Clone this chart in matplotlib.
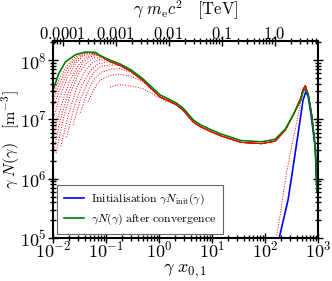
import matplotlib
matplotlib.use('Agg')
import matplotlib.pyplot as plt
import numpy as np

plt.rcParams['font.family'] = 'serif'
plt.rcParams['font.serif'] = ['cmr10', 'DejaVu Serif']
plt.rcParams['mathtext.fontset'] = 'cm'
plt.rcParams['axes.formatter.use_mathtext'] = True

# converged spectrum (green)
green_x = [0.01, 0.0128, 0.0171, 0.0264, 0.0407, 0.063, 0.077, 0.119, 0.18, 0.3, 0.5,
           1.04, 1.6, 2.16, 2.87, 4.43, 5.94, 9.2, 14.5, 35.2, 85.5, 154, 242, 349,
           472, 520, 563, 656, 760, 885, 957]
green_y = [3.1e7, 5.9e7, 9.3e7, 1.23e8, 1.37e8, 1.35e8, 1.2e8, 1.0e8, 8.7e7, 6.8e7, 4.8e7,
           2.6e7, 2.15e7, 1.87e7, 1.54e7, 9.8e6, 8.2e6, 6.8e6, 5.7e6, 4.4e6, 4.2e6, 4.6e6,
           6.9e6, 1.25e7, 2.12e7, 2.9e7, 3.3e7, 2.6e7, 1.14e7, 3.4e6, 6.0e5]

# initialisation (blue)
blue_x = [185, 272, 368, 461, 520, 590, 650, 728, 885, 957]
blue_y = [1e5, 4.4e5, 2.6e6, 1e7, 2.1e7, 2.95e7, 2.45e7, 1.3e7, 3.4e6, 6e5]

# common tail of the iterations (red, just under the green)
tail_x = [0.119, 0.18, 0.3, 0.5, 1.04, 1.6, 2.16, 2.87, 4.43, 5.94, 9.2, 14.5, 35.2,
          85.5, 154, 242, 349, 472, 520, 575, 656, 760, 885, 957]
tail_y = [9.4e7, 8.2e7, 6.4e7, 4.5e7, 2.4e7, 2.0e7, 1.75e7, 1.42e7, 9.0e6, 7.6e6, 6.3e6,
          5.3e6, 4.1e6, 3.9e6, 4.3e6, 6.6e6, 1.25e7, 2.3e7, 3.2e7, 3.7e7, 2.6e7, 1.2e7,
          3.4e6, 6e5]

# low energy part of each iteration
heads = [
    ([0.119, 0.16, 0.2, 0.33, 0.5, 0.84, 1.4], [3.5e7, 3.8e7, 3.85e7, 3.6e7, 3.3e7, 2.55e7, 2.0e7]),
    ([0.046, 0.06, 0.077, 0.119, 0.18, 0.3, 0.5], [2.0e7, 3.3e7, 4.6e7, 5.5e7, 5.8e7, 5.3e7, 4.3e7]),
    ([0.033, 0.045, 0.06, 0.08, 0.119, 0.18, 0.3], [1.3e7, 3.0e7, 4.8e7, 6.2e7, 7.0e7, 7.2e7, 6.2e7]),
    ([0.024, 0.033, 0.045, 0.06, 0.08, 0.119], [8e6, 2.2e7, 4.3e7, 6.3e7, 7.8e7, 8.3e7]),
    ([0.018, 0.025, 0.035, 0.05, 0.07, 0.1], [5e6, 1.6e7, 3.8e7, 6.5e7, 8.6e7, 9.3e7]),
    ([0.014, 0.02, 0.028, 0.04, 0.055, 0.075, 0.1], [3.5e6, 1.3e7, 3.4e7, 6.6e7, 9.0e7, 1.02e8, 1.0e8]),
    ([0.0114, 0.016, 0.022, 0.032, 0.045, 0.06, 0.08], [2.7e6, 1.1e7, 3.0e7, 6.4e7, 9.5e7, 1.1e8, 1.12e8]),
    ([0.01, 0.013, 0.018, 0.026, 0.037, 0.05, 0.065, 0.085], [2.5e6, 8e6, 2.3e7, 5.5e7, 9.2e7, 1.14e8, 1.2e8, 1.15e8]),
    ([0.01, 0.014, 0.02, 0.03, 0.042, 0.055, 0.075], [5e6, 1.6e7, 4.2e7, 8.2e7, 1.12e8, 1.24e8, 1.2e8]),
    ([0.01, 0.013, 0.018, 0.026, 0.037, 0.05, 0.07], [1.0e7, 2.2e7, 4.6e7, 8.5e7, 1.17e8, 1.28e8, 1.22e8]),
    ([0.01, 0.013, 0.018, 0.026, 0.037, 0.05, 0.07], [1.5e7, 3.0e7, 5.8e7, 9.5e7, 1.24e8, 1.31e8, 1.24e8]),
    ([0.01, 0.013, 0.018, 0.026, 0.037, 0.05, 0.07], [2.0e7, 3.9e7, 6.9e7, 1.05e8, 1.29e8, 1.33e8, 1.25e8]),
    ([0.01, 0.013, 0.018, 0.026, 0.037, 0.05, 0.07], [2.5e7, 4.7e7, 7.9e7, 1.13e8, 1.33e8, 1.35e8, 1.26e8]),
]

# first iteration near the injection peak
first_x = [150, 166, 200, 248, 316, 368, 420, 472]
first_y = [5e4, 1.12e5, 3.0e5, 1.1e6, 3.5e6, 6.5e6, 1.2e7, 2.0e7]

top_ticks = [1e-4, 1e-3, 1e-2, 0.1, 1.0]
top_labels = ['$0.0001$', '$0.001$', '$0.01$', '$0.1$', '$1.0$']
k_tev = 6.6e-3   # gamma x_{0,1} -> TeV

fig = plt.figure(figsize=(3.32, 2.81), dpi=100)
ax = fig.add_axes([0.1596, 0.153, 0.7984, 0.701])

tx = np.array(tail_x)
ty = np.array(tail_y)
for hx, hy in heads:
    m = tx > hx[-1]
    ax.plot(list(hx) + list(tx[m]), list(hy) + list(ty[m]), color='r', ls=':', lw=0.7)
m = tx > first_x[-1]
ax.plot(first_x + list(tx[m]), first_y + list(ty[m]), color='r', ls=':', lw=0.7)

ax.plot(blue_x, blue_y, color='b', lw=1.2,
        label=r'$\mathrm{Initialisation}\ \gamma N_\mathrm{init}(\gamma)$')
ax.plot(green_x, green_y, color='g', lw=1.2,
        label=r'$\gamma N(\gamma)\ \mathrm{after\ convergence}$')

ax.set_xscale('log')
ax.set_yscale('log')
ax.set_xlim(0.01, 1000)
ax.set_ylim(1e5, 2.1e8)
ax.set_xlabel(r'$\gamma\ x_{0,1}$', fontsize=13)
ax.xaxis.set_label_coords(0.5, -0.12)
ax.xaxis.label.set_va('top')
ax.set_ylabel(r'$\gamma\ N(\gamma)\quad[\mathrm{m}^{-3}]$', fontsize=11.5)
ax.yaxis.set_label_coords(-0.118, 0.5)

ax.tick_params(which='both', direction='inout', top=False, right=True, labelsize=13, width=1)
ax.tick_params(which='major', length=7)
ax.tick_params(which='minor', length=4)
ax.tick_params(axis='x', which='major', pad=-2)
ax.tick_params(axis='y', which='major', pad=1)
for s in ax.spines.values():
    s.set_linewidth(1.5)

# energy axis on top
top = ax.twiny()
top.set_xscale('log')
top.set_xlim(0.01 * k_tev, 1000 * k_tev)
top.set_xticks(top_ticks)
top.set_xticklabels(top_labels)
top.tick_params(which='both', direction='inout', labelsize=12, width=1)
top.tick_params(which='major', length=7, pad=-4.5)
top.tick_params(which='minor', length=4)
for s in top.spines.values():
    s.set_visible(False)
top.set_xlabel(r'$\gamma\ m_\mathrm{e}c^2\quad[\mathrm{TeV}]$', fontsize=12)
top.xaxis.set_label_coords(0.5, 1.097)
top.xaxis.label.set_va('bottom')

leg = ax.legend(loc='lower left', fontsize=8.5, fancybox=False, framealpha=1,
                edgecolor='0.4', borderaxespad=0.3, handlelength=1.7,
                handletextpad=0.6, labelspacing=0.4, borderpad=0.6)
leg.get_frame().set_linewidth(0.8)

fig.savefig('out.png', dpi=100)
